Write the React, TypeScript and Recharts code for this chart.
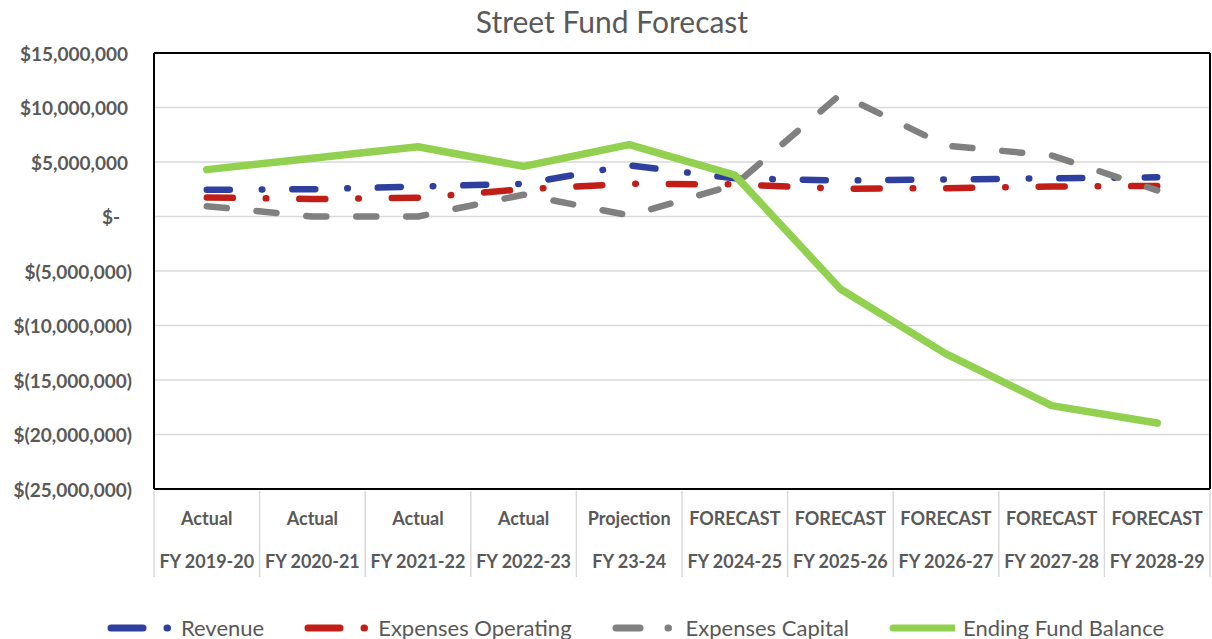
import React from "react";
import {
  CartesianGrid,
  Legend,
  Line,
  LineChart,
  ReferenceLine,
  XAxis,
  YAxis,
} from "recharts";

document.body.style.margin = "0";

const stages = ["Actual", "Actual", "Actual", "Actual", "Projection", "FORECAST", "FORECAST", "FORECAST", "FORECAST", "FORECAST"];
const years = ["FY 2019-20", "FY 2020-21", "FY 2021-22", "FY 2022-23", "FY 23-24", "FY 2024-25", "FY 2025-26", "FY 2026-27", "FY 2027-28", "FY 2028-29"];

// values in $ millions
const revenue = [2.45, 2.5, 2.75, 3.0, 4.7, 3.5, 3.3, 3.4, 3.5, 3.6];
const expensesOperating = [1.75, 1.6, 1.72, 2.5, 3.0, 2.95, 2.55, 2.6, 2.75, 2.8];
const expensesCapital = [0.95, 0, 0, 2.0, 0.1, 2.9, 11.2, 6.5, 5.6, 2.4];
const endingFundBalance = [4.3, 5.35, 6.4, 4.6, 6.6, 3.8, -6.65, -12.6, -17.35, -18.95];

const yTicks = [-25000000, -20000000, -15000000, -10000000, -5000000, 0, 5000000, 10000000, 15000000];

const series = [
  { key: "revenue", name: "Revenue", color: "#2F3F9F", width: 6.5, dash: "23 32 0.5 30", legendDash: "32 24 0.5 60" },
  { key: "opex", name: "Expenses Operating", color: "#C21E17", width: 6.5, dash: "26 33 0.5 33", legendDash: "32 24 0.5 60" },
  { key: "capex", name: "Expenses Capital", color: "#808080", width: 6.5, dash: "20 30", legendDash: "24 28 0.5 60" },
  { key: "ending", name: "Ending Fund Balance", color: "#92D050", width: 7.5, dash: undefined, legendDash: undefined },
];

const data = years.map((year, i) => ({
  year,
  stage: stages[i],
  revenue: revenue[i] * 1e6,
  opex: expensesOperating[i] * 1e6,
  capex: expensesCapital[i] * 1e6,
  ending: endingFundBalance[i] * 1e6,
}));

const W = 1212;
const H = 639;
const LEFT = 154;
const RIGHT = 2;
const HALF_BAND = (W - LEFT - RIGHT) / years.length / 2;
const FONT = "Lato, 'Open Sans', sans-serif";
const TEXT = "#595959";

function money(v: number) {
  if (v === 0) return "$-";
  const s = Math.abs(v).toLocaleString("en-US");
  return v < 0 ? `$(${s})` : `$${s}`;
}

function YTick(props: any) {
  const { x, y, payload } = props;
  const v = payload.value;
  const dx = v === 0 ? -34 : v < 0 ? -22 : -26;
  return (
    <text x={x + dx} y={y} textAnchor="end" dominantBaseline="central" fill={TEXT} fontFamily={FONT} fontWeight={700} fontSize={19}>
      {money(v)}
    </text>
  );
}

function XTick(props: any) {
  const { x, y, payload } = props;
  const i = payload.index ?? props.index;
  const last = i === years.length - 1;
  return (
    <g>
      <line x1={x - HALF_BAND} x2={x - HALF_BAND} y1={y} y2={y + 86} stroke="#d9d9d9" strokeWidth={1.5} />
      {last ? <line x1={x + HALF_BAND} x2={x + HALF_BAND} y1={y} y2={y + 86} stroke="#d9d9d9" strokeWidth={1.5} /> : null}
      <text x={x} y={y + 34} textAnchor="middle" fill={TEXT} fontFamily={FONT} fontWeight={700} fontSize={18}>
        {stages[i]}
      </text>
      <text x={x} y={y + 77} textAnchor="middle" fill={TEXT} fontFamily={FONT} fontWeight={700} fontSize={18}>
        {payload.value}
      </text>
    </g>
  );
}

function LegendContent() {
  return (
    <div
      style={{
        display: "flex",
        justifyContent: "center",
        alignItems: "center",
        height: 32,
        paddingTop: 10,
        paddingLeft: 60,
        boxSizing: "border-box",
        gap: 40,
      }}
    >
      {series.map((s) => (
        <div key={s.key} style={{ display: "flex", alignItems: "center" }}>
          <svg width={66} height={12} style={{ marginRight: 8 }}>
            <line x1={4} x2={s.legendDash ? 62 : 66} y1={6} y2={6} stroke={s.color} strokeWidth={7} strokeDasharray={s.legendDash} strokeLinecap="round" />
          </svg>
          <span style={{ fontFamily: FONT, fontSize: 22, color: TEXT, lineHeight: "22px" }}>{s.name}</span>
        </div>
      ))}
    </div>
  );
}

export default function App() {
  return (
    <div style={{ position: "relative", width: W, height: H, background: "#fff" }}>
      <div
        style={{
          position: "absolute",
          top: 2,
          left: 0,
          width: W,
          textAlign: "center",
          fontFamily: FONT,
          fontSize: 30,
          lineHeight: "38px",
          color: TEXT,
          paddingLeft: 12,
          boxSizing: "border-box",
        }}
      >
        Street Fund Forecast
      </div>
      <LineChart width={W} height={H} data={data} margin={{ top: 53, right: 1, left: 0, bottom: 0 }}>
        <CartesianGrid yAxisId="l" horizontal vertical={false} stroke="#d9d9d9" strokeWidth={1.5} />
        <XAxis
          dataKey="year"
          height={118}
          interval={0}
          padding={{ left: HALF_BAND, right: HALF_BAND }}
          tick={<XTick />}
          tickLine={false}
          tickSize={0}
          axisLine={{ stroke: "#000", strokeWidth: 2 }}
        />
        <YAxis
          yAxisId="l"
          width={LEFT}
          domain={[-25000000, 15000000]}
          ticks={yTicks}
          tick={<YTick />}
          tickLine={false}
          tickSize={0}
          tickMargin={0}
          axisLine={{ stroke: "#000", strokeWidth: 2 }}
        />
        <YAxis
          yAxisId="r"
          orientation="right"
          width={1}
          domain={[-25000000, 15000000]}
          ticks={yTicks}
          tick={false}
          tickLine={false}
          axisLine={{ stroke: "#000", strokeWidth: 2 }}
        />
        <ReferenceLine yAxisId="l" y={15000000} stroke="#000" strokeWidth={2} />
        {series.map((s) => (
          <Line
            key={s.key}
            yAxisId="l"
            type="linear"
            dataKey={s.key}
            name={s.name}
            stroke={s.color}
            strokeWidth={s.width}
            strokeDasharray={s.dash}
            strokeLinecap="round"
            strokeLinejoin="round"
            dot={false}
            activeDot={false}
            isAnimationActive={false}
          />
        ))}
        <Legend verticalAlign="bottom" height={32} content={<LegendContent />} />
      </LineChart>
    </div>
  );
}
